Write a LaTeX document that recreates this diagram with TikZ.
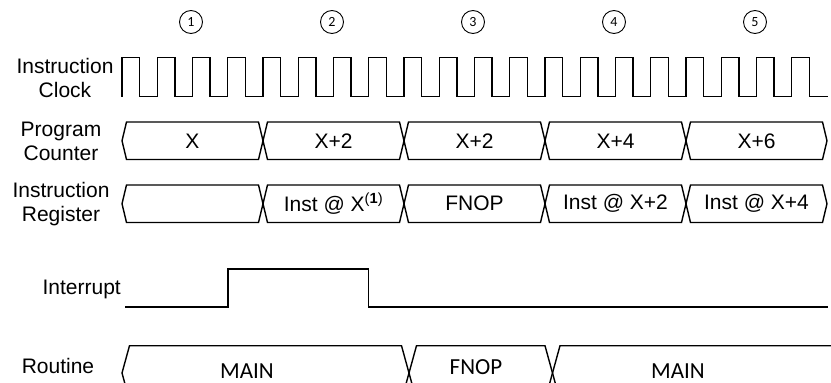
\documentclass[tikz,border=0pt]{standalone}
\usepackage{fontspec}
\setmainfont{Liberation Sans}
\newfontfamily\calfont{Carlito}
\begin{document}
\begin{tikzpicture}[x=1pt,y=-1pt,
  sig/.style={line width=1.4pt, line join=miter},
  lbl/.style={font=\fontsize{21}{24}\selectfont, align=center, inner sep=0pt},
  bustxt/.style={font=\fontsize{21}{24}\selectfont, inner sep=0pt},
  routtxt/.style={font=\calfont\fontsize{23}{26}\selectfont, inner sep=0pt},
  circmark/.style={circle, draw, line width=0.9pt, minimum size=23pt, inner sep=0pt, font=\calfont\fontsize{14}{14}\selectfont}]
\useasboundingbox (0,0) rectangle (831,383);
\clip (0,0) rectangle (831,383);
\newcommand\busseg[5]{\draw[sig] (#1,{(#3+#4)/2}) -- ({#1+#5},#3) -- ({#2-#5},#3) -- (#2,{(#3+#4)/2}) -- ({#2-#5},#4) -- ({#1+#5},#4) -- cycle;}
% circled markers
\foreach \i/\x in {1/191,2/332,3/473,4/614,5/755} {
  \node[circmark] (c\i) at (\x,22) {\i};
}
% labels
\node[lbl] (lclk) at (65,77.5) {Instruction\\Clock};
\node[lbl] (lpc) at (61,141) {Program\\Counter};
\node[lbl] (lir) at (61,204) {Instruction\\Register};
\node[lbl, anchor=east] (lint) at (121,289) {Interrupt};
\node[lbl] (lrt) at (58,366) {Routine};
% clock
\draw[sig] (122,96.5) foreach \k in {0,...,19} { -- ({122+35.25*\k},96.5) -- ({122+35.25*\k},57.5) -- ({139.6+35.25*\k},57.5) -- ({139.6+35.25*\k},96.5) } -- (828,96.5);
% program counter
\busseg{122}{263}{122}{159.5}{4.5}
\busseg{263}{404}{122}{159.5}{4.5}
\busseg{404}{545}{122}{159.5}{4.5}
\busseg{545}{686}{122}{159.5}{4.5}
\busseg{686}{827}{122}{159.5}{4.5}
\node[bustxt] (pc1) at (192.5,141) {X};
\node[bustxt] (pc2) at (333.5,141) {X+2};
\node[bustxt] (pc3) at (474.5,141) {X+2};
\node[bustxt] (pc4) at (615.5,141) {X+4};
\node[bustxt] (pc5) at (756.5,141) {X+6};
% instruction register
\busseg{122}{263}{185}{222.5}{4.5}
\busseg{263}{404}{185}{222.5}{4.5}
\busseg{404}{545}{185}{222.5}{4.5}
\busseg{545}{686}{185}{222.5}{4.5}
\busseg{686}{827}{185}{222.5}{4.5}
\node[bustxt] (ir2) at (333.5,203.5) {Inst @ X\textsuperscript{(\textbf{1})}};
\node[bustxt] (ir3) at (474.5,203.5) {FNOP};
\node[bustxt] (ir4) at (615.5,203.5) {Inst @ X+2};
\node[bustxt] (ir5) at (756.5,203.5) {Inst @ X+4};
% interrupt
\draw[sig] (125,307) -- (228,307) -- (228,269) -- (368.5,269) -- (368.5,307) -- (828,307);
% routine
\busseg{122}{409}{345.7}{400.3}{7.5}
\busseg{409}{552.5}{345.7}{400.3}{7.5}
\busseg{552.5}{880}{345.7}{400.3}{7.5}
\node[routtxt] (r1) at (247,371.5) {MAIN};
\node[routtxt] (r2) at (476,367.5) {FNOP};
\node[routtxt] (r3) at (678,371.5) {MAIN};
\end{tikzpicture}
\end{document}
